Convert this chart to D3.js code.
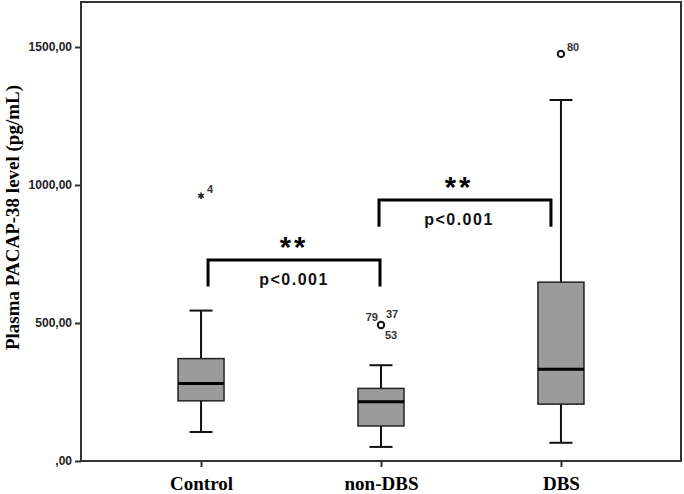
<!DOCTYPE html>
<html>
<head>
<meta charset="utf-8">
<script src="https://cdn.jsdelivr.net/npm/d3@7"></script>
<style>
  body { margin: 0; background: #fff; }
  svg { display: block; }
</style>
</head>
<body>
<div id="chart"></div>
<script>
// box plot values (pg/mL)
const groups = ['Control', 'non-DBS', 'DBS'];
const whiskerLow = [105, 51, 66];
const q1 = [218, 127, 206];
const median = [281, 215, 332];
const q3 = [371, 263, 648];
const whiskerHigh = [545, 347, 1308];

// outliers
const outlierGroup = ['Control', 'non-DBS', 'DBS'];
const outlierValue = [961, 493, 1475];
const outlierKind = ['extreme', 'mild', 'mild'];
const outlierIds = [['4'], ['79', '37', '53'], ['80']];

// y axis ticks
const yTicks = [0, 500, 1000, 1500];
const yTickLabels = [',00', '500,00', '1000,00', '1500,00'];

// significance brackets
const compareFrom = ['Control', 'non-DBS'];
const compareTo = ['non-DBS', 'DBS'];
const bracketTop = [728, 946];
const bracketLeg = [632, 849];
const pLabels = ['p<0.001', 'p<0.001'];
const starLabels = ['**', '**'];

const W = 684, H = 494;
const plotLeft = 81, plotRight = 681, plotTop = 2, plotBottom = 461;

const svg = d3.select('#chart').append('svg')
    .attr('width', W)
    .attr('height', H);

const x = d3.scalePoint()
    .domain(groups)
    .range([plotLeft, plotRight])
    .padding(0.667);

const y = d3.scaleLinear()
    .domain([0, 1663])
    .range([plotBottom, plotTop]);

const sans = 'Arial, "Liberation Sans", sans-serif';
const serif = '"Times New Roman", "Liberation Serif", serif';

// frame
svg.append('rect')
    .attr('x', plotLeft).attr('y', plotTop)
    .attr('width', plotRight - plotLeft).attr('height', plotBottom - plotTop)
    .attr('fill', 'none')
    .attr('stroke', '#333')
    .attr('stroke-width', 2);

// y axis
const yAxis = svg.append('g')
    .attr('transform', `translate(${plotLeft},0)`)
    .call(d3.axisLeft(y)
        .tickValues(yTicks)
        .tickSize(6)
        .tickPadding(3)
        .tickFormat((d, i) => yTickLabels[i]));
yAxis.select('.domain').remove();
yAxis.selectAll('line').attr('stroke', '#333').attr('stroke-width', 2);
yAxis.selectAll('text')
    .attr('font-family', sans)
    .attr('font-size', 12)
    .attr('font-weight', 'bold')
    .attr('fill', '#222');

// x axis
const xAxis = svg.append('g')
    .attr('transform', `translate(0,${plotBottom})`)
    .call(d3.axisBottom(x).tickSize(6).tickPadding(10));
xAxis.select('.domain').remove();
xAxis.selectAll('line').attr('stroke', '#333').attr('stroke-width', 2);
xAxis.selectAll('text')
    .attr('font-family', serif)
    .attr('font-size', 19)
    .attr('font-weight', 'bold')
    .attr('fill', '#000');

// y title
svg.append('text')
    .attr('transform', `translate(19,${(plotTop + plotBottom) / 2 - 14}) rotate(-90)`)
    .attr('text-anchor', 'middle')
    .attr('font-family', serif)
    .attr('font-size', 19)
    .attr('font-weight', 'bold')
    .text('Plasma PACAP-38 level (pg/mL)');

// boxes
const boxW = 46, capW = 23;
groups.forEach((g, i) => {
    const cx = x(g);
    const gBox = svg.append('g');
    // whiskers
    gBox.append('line')
        .attr('x1', cx).attr('x2', cx)
        .attr('y1', y(whiskerHigh[i])).attr('y2', y(q3[i]))
        .attr('stroke', '#111').attr('stroke-width', 2);
    gBox.append('line')
        .attr('x1', cx).attr('x2', cx)
        .attr('y1', y(q1[i])).attr('y2', y(whiskerLow[i]))
        .attr('stroke', '#111').attr('stroke-width', 2);
    [whiskerHigh[i], whiskerLow[i]].forEach(v => {
        gBox.append('line')
            .attr('x1', cx - capW / 2).attr('x2', cx + capW / 2)
            .attr('y1', y(v)).attr('y2', y(v))
            .attr('stroke', '#111').attr('stroke-width', 2);
    });
    gBox.append('rect')
        .attr('x', cx - boxW / 2)
        .attr('y', y(q3[i]))
        .attr('width', boxW)
        .attr('height', y(q1[i]) - y(q3[i]))
        .attr('fill', '#9b9b9b')
        .attr('stroke', '#222')
        .attr('stroke-width', 1.5);
    gBox.append('line')
        .attr('x1', cx - boxW / 2).attr('x2', cx + boxW / 2)
        .attr('y1', y(median[i])).attr('y2', y(median[i]))
        .attr('stroke', '#000').attr('stroke-width', 3);
});

// outliers
outlierGroup.forEach((g, i) => {
    const cx = x(g), cy = y(outlierValue[i]);
    if (outlierKind[i] === 'extreme') {
        svg.append('path')
            .attr('transform', `translate(${cx},${cy})`)
            .attr('d', d3.symbol(d3.symbolAsterisk, 30)())
            .attr('fill', 'none')
            .attr('stroke', '#222')
            .attr('stroke-width', 1.6);
    } else {
        svg.append('circle')
            .attr('cx', cx).attr('cy', cy).attr('r', 3.2)
            .attr('fill', '#fff')
            .attr('stroke', '#111')
            .attr('stroke-width', 2);
    }
    const ids = outlierIds[i];
    // label spots around the point: right-top, left-top, right-bottom
    const spots = ids.length === 1
        ? [[6, -7, 'start']]
        : [[-3, -8, 'end'], [5, -11, 'start'], [4, 10, 'start']];
    ids.forEach((id, k) => {
        const s = spots[k];
        svg.append('text')
            .attr('x', cx + s[0]).attr('y', cy + s[1])
            .attr('dy', '0.35em')
            .attr('text-anchor', s[2])
            .attr('font-family', sans)
            .attr('font-size', 11)
            .attr('font-weight', 'bold')
            .attr('fill', '#333')
            .text(id);
    });
});

// significance brackets
const inset = [[7, -1], [-2, -10]];
const textShift = [0, -6];
compareFrom.forEach((a, i) => {
    const x1 = x(a) + inset[i][0];
    const x2 = x(compareTo[i]) + inset[i][1];
    const yt = y(bracketTop[i]), yl = y(bracketLeg[i]);
    svg.append('path')
        .attr('d', `M${x1},${yl}V${yt}H${x2}V${yl}`)
        .attr('fill', 'none')
        .attr('stroke', '#000')
        .attr('stroke-width', 3);
    const mid = (x1 + x2) / 2 + textShift[i];
    svg.append('text')
        .attr('x', mid).attr('y', yt - 3)
        .attr('text-anchor', 'middle')
        .attr('font-family', sans)
        .attr('font-size', 29)
        .attr('font-weight', 'bold')
        .attr('letter-spacing', 3)
        .text(starLabels[i]);
    svg.append('text')
        .attr('x', mid).attr('y', yt + 25)
        .attr('text-anchor', 'middle')
        .attr('font-family', sans)
        .attr('font-size', 16)
        .attr('font-weight', 'bold')
        .attr('letter-spacing', 1.5)
        .attr('fill', '#111')
        .text(pLabels[i]);
});
</script>
</body>
</html>
